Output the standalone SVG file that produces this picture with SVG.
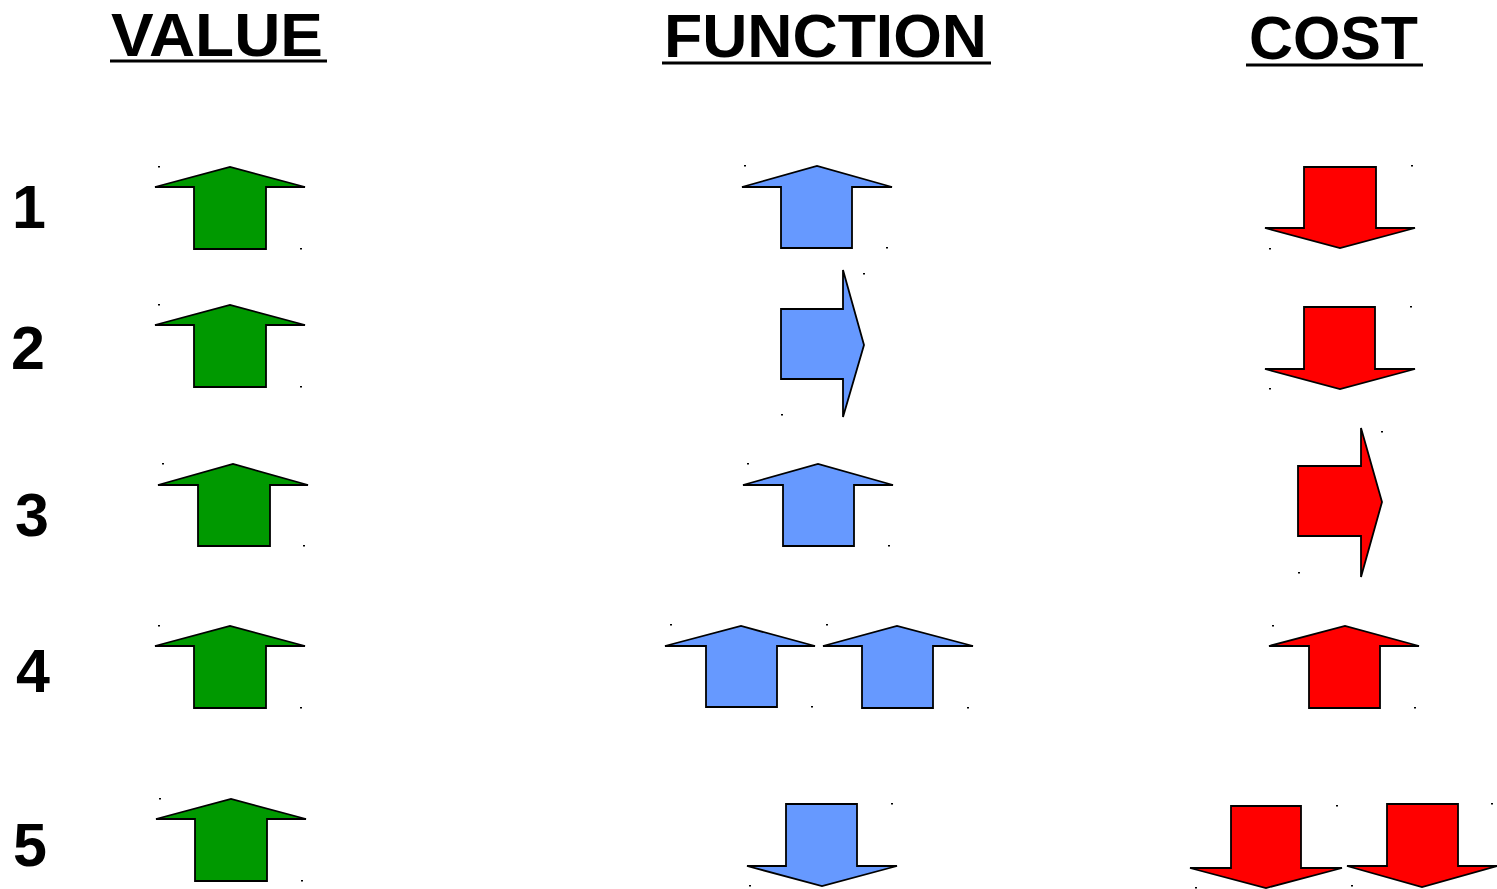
<svg xmlns="http://www.w3.org/2000/svg" width="1497" height="889" viewBox="0 0 1497 889">
  <style>
    .hdr { font-family: "Liberation Sans", Arial, sans-serif; font-weight: bold; font-size: 62px; fill: #000; }
    .num { font-family: "Liberation Sans", Arial, sans-serif; font-weight: bold; font-size: 61px; fill: #000; }
    .uline { stroke: #000; stroke-width: 3; }
    .arrow { stroke: #000; stroke-width: 1.8; stroke-linejoin: miter; }
    .green { fill: #009900; }
    .blue { fill: #6699FF; }
    .red { fill: #FF0000; }
    .dot { fill: #000; }
  </style>

  <!-- column headings -->
  <g id="heading-value">
    <text class="hdr" x="111" y="56" textLength="212" lengthAdjust="spacingAndGlyphs">VALUE</text>
    <line class="uline" x1="110" y1="61" x2="327" y2="61"/>
  </g>
  <g id="heading-function">
    <text class="hdr" x="664" y="57" textLength="323" lengthAdjust="spacingAndGlyphs">FUNCTION</text>
    <line class="uline" x1="662" y1="63" x2="991" y2="63"/>
  </g>
  <g id="heading-cost">
    <text class="hdr" x="1249" y="59" textLength="169" lengthAdjust="spacingAndGlyphs">COST</text>
    <line class="uline" x1="1246" y1="65" x2="1423" y2="65"/>
  </g>

  <!-- row numbers -->
  <g id="row-labels">
    <text class="num" x="12" y="228">1</text>
    <text class="num" x="11" y="369">2</text>
    <text class="num" x="15" y="536">3</text>
    <text class="num" x="16" y="692">4</text>
    <text class="num" x="13" y="866">5</text>
  </g>

  <!-- value column: all up -->
  <g id="value-1">
    <path class="arrow green" d="M155,187 L230,167 L305,187 L266,187 L266,249 L194,249 L194,187 Z"/>
    <rect class="dot" x="158" y="166" width="2" height="1.5"/><rect class="dot" x="300" y="248" width="2" height="1.5"/>
  </g>
  <g id="value-2">
    <path class="arrow green" d="M155,325 L230,305 L305,325 L266,325 L266,387 L194,387 L194,325 Z"/>
    <rect class="dot" x="158" y="304" width="2" height="1.5"/><rect class="dot" x="300" y="386" width="2" height="1.5"/>
  </g>
  <g id="value-3">
    <path class="arrow green" d="M158,485 L233,464 L308,485 L270,485 L270,546 L198,546 L198,485 Z"/>
    <rect class="dot" x="162" y="463" width="2" height="1.5"/><rect class="dot" x="303" y="545" width="2" height="1.5"/>
  </g>
  <g id="value-4">
    <path class="arrow green" d="M155,646 L230,626 L305,646 L266,646 L266,708 L194,708 L194,646 Z"/>
    <rect class="dot" x="158" y="625" width="2" height="1.5"/><rect class="dot" x="300" y="707" width="2" height="1.5"/>
  </g>
  <g id="value-5">
    <path class="arrow green" d="M156,819 L231,799 L306,819 L267,819 L267,881 L195,881 L195,819 Z"/>
    <rect class="dot" x="159" y="798" width="2" height="1.5"/><rect class="dot" x="301" y="880" width="2" height="1.5"/>
  </g>

  <!-- function column -->
  <g id="function-1">
    <path class="arrow blue" d="M742,187 L817,166 L892,187 L852,187 L852,248 L781,248 L781,187 Z"/>
    <rect class="dot" x="744" y="165" width="2" height="1.5"/><rect class="dot" x="886" y="247" width="2" height="1.5"/>
  </g>
  <g id="function-2">
    <path class="arrow blue" d="M781,309 L843,309 L843,270 L864,345 L843,417 L843,379 L781,379 Z"/>
    <rect class="dot" x="863" y="273" width="2" height="1.5"/><rect class="dot" x="781" y="414" width="2" height="1.5"/>
  </g>
  <g id="function-3">
    <path class="arrow blue" d="M743,485 L818,464 L893,485 L854,485 L854,546 L783,546 L783,485 Z"/>
    <rect class="dot" x="747" y="463" width="2" height="1.5"/><rect class="dot" x="888" y="545" width="2" height="1.5"/>
  </g>
  <g id="function-4a">
    <path class="arrow blue" d="M665,646 L741,626 L815,646 L777,646 L777,707 L706,707 L706,646 Z"/>
    <rect class="dot" x="670" y="624" width="2" height="1.5"/><rect class="dot" x="811" y="706" width="2" height="1.5"/>
  </g>
  <g id="function-4b">
    <path class="arrow blue" d="M823,646 L897,626 L973,646 L933,646 L933,708 L862,708 L862,646 Z"/>
    <rect class="dot" x="826" y="624" width="2" height="1.5"/><rect class="dot" x="967" y="707" width="2" height="1.5"/>
  </g>
  <g id="function-5">
    <path class="arrow blue" d="M786,804 L857,804 L857,866 L897,866 L822,886 L747,866 L786,866 Z"/>
    <rect class="dot" x="891" y="803" width="2" height="1.5"/><rect class="dot" x="749" y="885" width="2" height="1.5"/>
  </g>

  <!-- cost column -->
  <g id="cost-1">
    <path class="arrow red" d="M1304,167 L1376,167 L1376,228 L1415,228 L1340,248 L1265,228 L1304,228 Z"/>
    <rect class="dot" x="1411" y="165" width="2" height="1.5"/><rect class="dot" x="1269" y="248" width="2" height="1.5"/>
  </g>
  <g id="cost-2">
    <path class="arrow red" d="M1304,307 L1375,307 L1375,369 L1415,369 L1340,389 L1265,369 L1304,369 Z"/>
    <rect class="dot" x="1410" y="306" width="2" height="1.5"/><rect class="dot" x="1269" y="388" width="2" height="1.5"/>
  </g>
  <g id="cost-3">
    <path class="arrow red" d="M1298,466 L1361,466 L1361,428 L1382,502 L1361,577 L1361,536 L1298,536 Z"/>
    <rect class="dot" x="1381" y="431" width="2" height="1.5"/><rect class="dot" x="1298" y="572" width="2" height="1.5"/>
  </g>
  <g id="cost-4">
    <path class="arrow red" d="M1269,646 L1345,626 L1419,646 L1380,646 L1380,708 L1309,708 L1309,646 Z"/>
    <rect class="dot" x="1272" y="625" width="2" height="1.5"/><rect class="dot" x="1414" y="707" width="2" height="1.5"/>
  </g>
  <g id="cost-5a">
    <path class="arrow red" d="M1231,806 L1301,806 L1301,868 L1342,868 L1266,888 L1190,868 L1231,868 Z"/>
    <rect class="dot" x="1336" y="805" width="2" height="1.5"/><rect class="dot" x="1195" y="887" width="2" height="1.5"/>
  </g>
  <g id="cost-5b">
    <path class="arrow red" d="M1387,804 L1458,804 L1458,866 L1497,866 L1422,887 L1347,866 L1387,866 Z"/>
    <rect class="dot" x="1491" y="803" width="2" height="1.5"/><rect class="dot" x="1351" y="885" width="2" height="1.5"/>
  </g>
</svg>
